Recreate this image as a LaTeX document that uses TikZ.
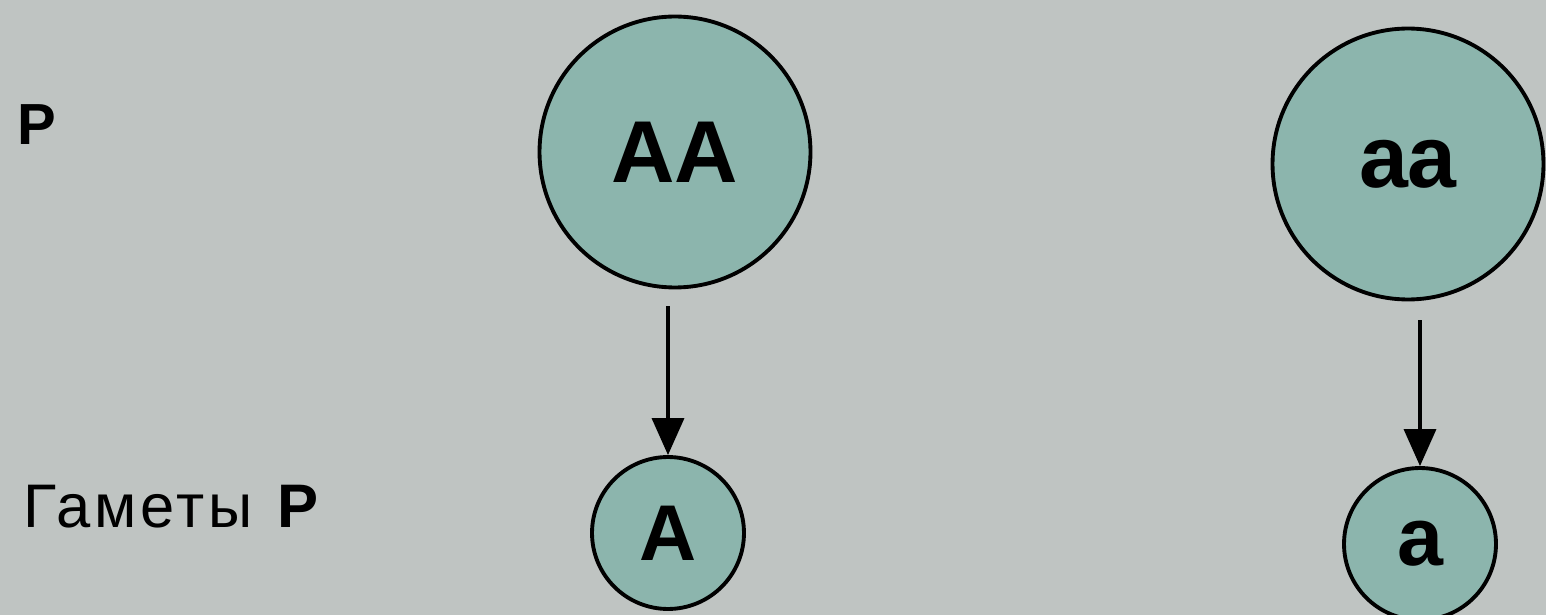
\documentclass[tikz,border=0pt]{standalone}
\usepackage{fontspec}
\setmainfont{Liberation Sans}
\usetikzlibrary{arrows.meta}
\definecolor{paper}{RGB}{191,196,194}
\definecolor{cellfill}{RGB}{140,181,173}

\begin{document}
\begin{tikzpicture}[x=0.02cm,y=-0.02cm,
    cell/.style={circle,draw,fill=cellfill,line width=2.2pt,inner sep=0pt},
    big/.style={cell,minimum size=5.42cm,font=\bfseries\fontsize{50}{50}\selectfont},
    small/.style={cell,minimum size=3.04cm,font=\bfseries\fontsize{45}{45}\selectfont},
    lbl/.style={inner sep=0pt,font=\fontsize{33}{33}\selectfont}]

    % background
    \fill [paper] (0,0) rectangle (1546,615);
    \useasboundingbox (0,0) rectangle (1546,615);

    % row labels
    \node [lbl] (p) at (37,125) {\textbf{P}};
    \node [lbl,anchor=west,font=\fontsize{35}{35}\selectfont\addfontfeature{LetterSpace=6}] (gp) at (23,507) {Гаметы \textbf{P}};

    % parents
    \node [big] (AA) at (675,152) {AA};
    \node [big] (aa) at (1408,164) {aa};

    % gametes
    \node [small] (A) at (668,533) {A};
    \node [small,font=\bfseries\fontsize{47}{47}\selectfont] (a) at (1420,544) {a};

    \draw [-{Triangle[length=0.74cm,width=0.64cm]},line width=2pt,shorten <=0.34cm] (AA.south -| A.north) -- (A.north);
    \draw [-{Triangle[length=0.74cm,width=0.64cm]},line width=2pt,shorten <=0.38cm] (aa.south -| a.north) -- (a.north);

\end{tikzpicture}
\end{document}
